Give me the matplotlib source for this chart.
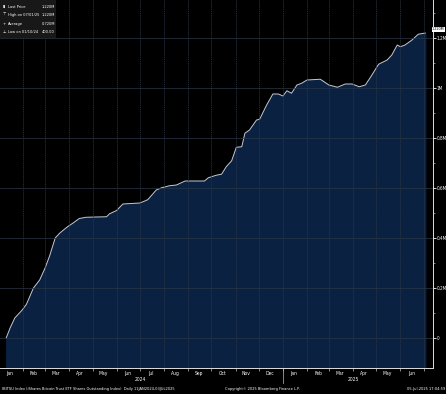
import numpy as np
import pandas as pd
import matplotlib
matplotlib.use('Agg')
import matplotlib.pyplot as plt
import matplotlib.dates as mdates

plt.rcParams['font.family'] = ['DejaVu Sans']
plt.rcParams['font.stretch'] = 'condensed'

# IBIT shares outstanding (millions)
dates = ['2024-01-11', '2024-01-16', '2024-01-22', '2024-01-31', '2024-02-06', '2024-02-15',
         '2024-02-23', '2024-03-01', '2024-03-07', '2024-03-14', '2024-03-20', '2024-03-29',
         '2024-04-06', '2024-04-14', '2024-04-23', '2024-05-19', '2024-05-23', '2024-06-01',
         '2024-06-09', '2024-07-01', '2024-07-11', '2024-07-22', '2024-07-29', '2024-08-08',
         '2024-08-17', '2024-08-28', '2024-09-22', '2024-09-27', '2024-10-07', '2024-10-14',
         '2024-10-20', '2024-10-27', '2024-11-02', '2024-11-09', '2024-11-13', '2024-11-19',
         '2024-11-28', '2024-12-02', '2024-12-11', '2024-12-19', '2024-12-26', '2025-01-01',
         '2025-01-06', '2025-01-12', '2025-01-19', '2025-01-25', '2025-02-01', '2025-02-18',
         '2025-03-01', '2025-03-12', '2025-03-22', '2025-03-31', '2025-04-09', '2025-04-17',
         '2025-04-24', '2025-05-04', '2025-05-15', '2025-05-21', '2025-05-28', '2025-06-01',
         '2025-06-07', '2025-06-16', '2025-06-24', '2025-07-03']
shares = [0.0004, 0.04, 0.08, 0.11, 0.135, 0.20,
          0.232, 0.28, 0.33, 0.40, 0.42, 0.443,
          0.46, 0.478, 0.483, 0.485, 0.497, 0.51,
          0.536, 0.54, 0.553, 0.592, 0.601, 0.609,
          0.612, 0.628, 0.628, 0.641, 0.651, 0.655,
          0.685, 0.709, 0.763, 0.765, 0.819, 0.832,
          0.872, 0.875, 0.932, 0.976, 0.976, 0.968,
          0.989, 0.979, 1.012, 1.019, 1.032, 1.035,
          1.012, 1.003, 1.016, 1.016, 1.005, 1.012,
          1.045, 1.095, 1.112, 1.132, 1.172, 1.165,
          1.172, 1.192, 1.215, 1.22]

y_ticks = [0, 0.2, 0.4, 0.6, 0.8, 1.0, 1.2]
y_labels = ['0', '0.2M', '0.4M', '0.6M', '0.8M', '1M', '1.2M']

legend_rows = [('Last Price', '1.220M'), ('High on 07/01/25', '1.220M'),
               ('Average', '0.720M'), ('Low on 01/10/24', '400.00')]

df = pd.DataFrame({'date': pd.to_datetime(dates), 'shares': shares})

fig = plt.figure(figsize=(4.46, 3.94), dpi=100, facecolor='black')
ax = fig.add_axes([0, 1 - 368 / 394, 433 / 446, 368 / 394])
ax.set_facecolor('black')

ax.fill_between(df['date'], df['shares'], -0.2, color='#0b2141', zorder=2)
ax.plot(df['date'], df['shares'], color='#c4c8cf', lw=0.7, zorder=3)

ax.set_xlim(pd.Timestamp('2024-01-03'), pd.Timestamp('2025-07-13'))
ax.set_ylim(-0.12, 1.352)

# y axis on the right
ax.yaxis.tick_right()
ax.set_yticks(y_ticks)
ax.set_yticklabels(y_labels)
ax.set_yticks(np.arange(0.1, 1.31, 0.2), minor=True)
ax.tick_params(axis='y', which='major', colors='white', labelsize=3.3, length=2, width=0.6, pad=0.8)
ax.tick_params(axis='y', which='minor', colors='#bbbbbb', length=1.5, width=0.5)

# month boundaries as ticks/grid, month names centred between them
month_starts = pd.date_range('2024-02-01', '2025-07-01', freq='MS')
ax.set_xticks(month_starts, minor=True)
mid_months = pd.date_range('2024-01-01', '2025-06-01', freq='MS') + pd.Timedelta(days=14)
ax.set_xticks(mid_months)
ax.xaxis.set_major_formatter(mdates.DateFormatter('%b'))
ax.tick_params(axis='x', which='major', length=0, colors='white', labelsize=3.6, pad=2.5)
ax.tick_params(axis='x', which='minor', length=2, width=0.5, colors='#bbbbbb')

for d in month_starts:
    ax.axvline(d, color='#2c3848', lw=0.5, ls=(0, (2, 1)), zorder=4)
for v in y_ticks:
    ax.axhline(v, color='#2c3848', lw=0.5, zorder=4)

for s in ['top', 'left']:
    ax.spines[s].set_visible(False)
for s in ['right', 'bottom']:
    ax.spines[s].set_color('#dddddd')
    ax.spines[s].set_linewidth(0.7)

# year labels and separator
ax.text(pd.Timestamp('2024-07-01'), -0.025, '2024', transform=ax.get_xaxis_transform(),
        color='white', fontsize=3.6, ha='center', va='top')
ax.text(pd.Timestamp('2025-04-01'), -0.025, '2025', transform=ax.get_xaxis_transform(),
        color='white', fontsize=3.6, ha='center', va='top')
ax.plot([pd.Timestamp('2025-01-01')] * 2, [0, -0.04], transform=ax.get_xaxis_transform(),
        color='#bbbbbb', lw=0.5, clip_on=False)

# last price tag at the right edge
fig.text(444.5 / 446, 1 - 29.5 / 394, '1.220M', fontsize=2.7, color='black',
         va='center', ha='right',
         bbox=dict(boxstyle='square,pad=0.1', fc='white', ec='none'))

# legend box top-left
fig.patches.append(plt.Rectangle((0, 1 - 38 / 394), 56 / 446, 38 / 394, transform=fig.transFigure,
                                 fc='#181818', ec='none', zorder=5))
markers = ['\u25ae', '\u22a4', '+', '\u22a5']
for i, (name, val) in enumerate(legend_rows):
    yy = 1 - (7 + i * 8.3) / 394
    fig.text(2.5 / 446, yy, markers[i], color='white', fontsize=3.2, va='center', zorder=6)
    fig.text(7.5 / 446, yy, name, color='white', fontsize=2.9, va='center', zorder=6)
    fig.text(55 / 446, yy, val, color='white', fontsize=2.9, va='center', ha='right', zorder=6)

# footer
fig.text(2 / 446, 1 - 389 / 394, 'IBITSU Index (iShares Bitcoin Trust ETF Shares Outstanding Index)  Daily 11JAN2024-03JUL2025',
         color='white', fontsize=2.9, va='center')
fig.text(262 / 446, 1 - 389 / 394, 'Copyright\u00a9 2025 Bloomberg Finance L.P.',
         color='white', fontsize=2.9, va='center', ha='center')
fig.text(445 / 446, 1 - 389 / 394, '05-Jul-2025 17:04:59',
         color='white', fontsize=2.9, va='center', ha='right')

fig.savefig('out.png', dpi=100, facecolor='black')
